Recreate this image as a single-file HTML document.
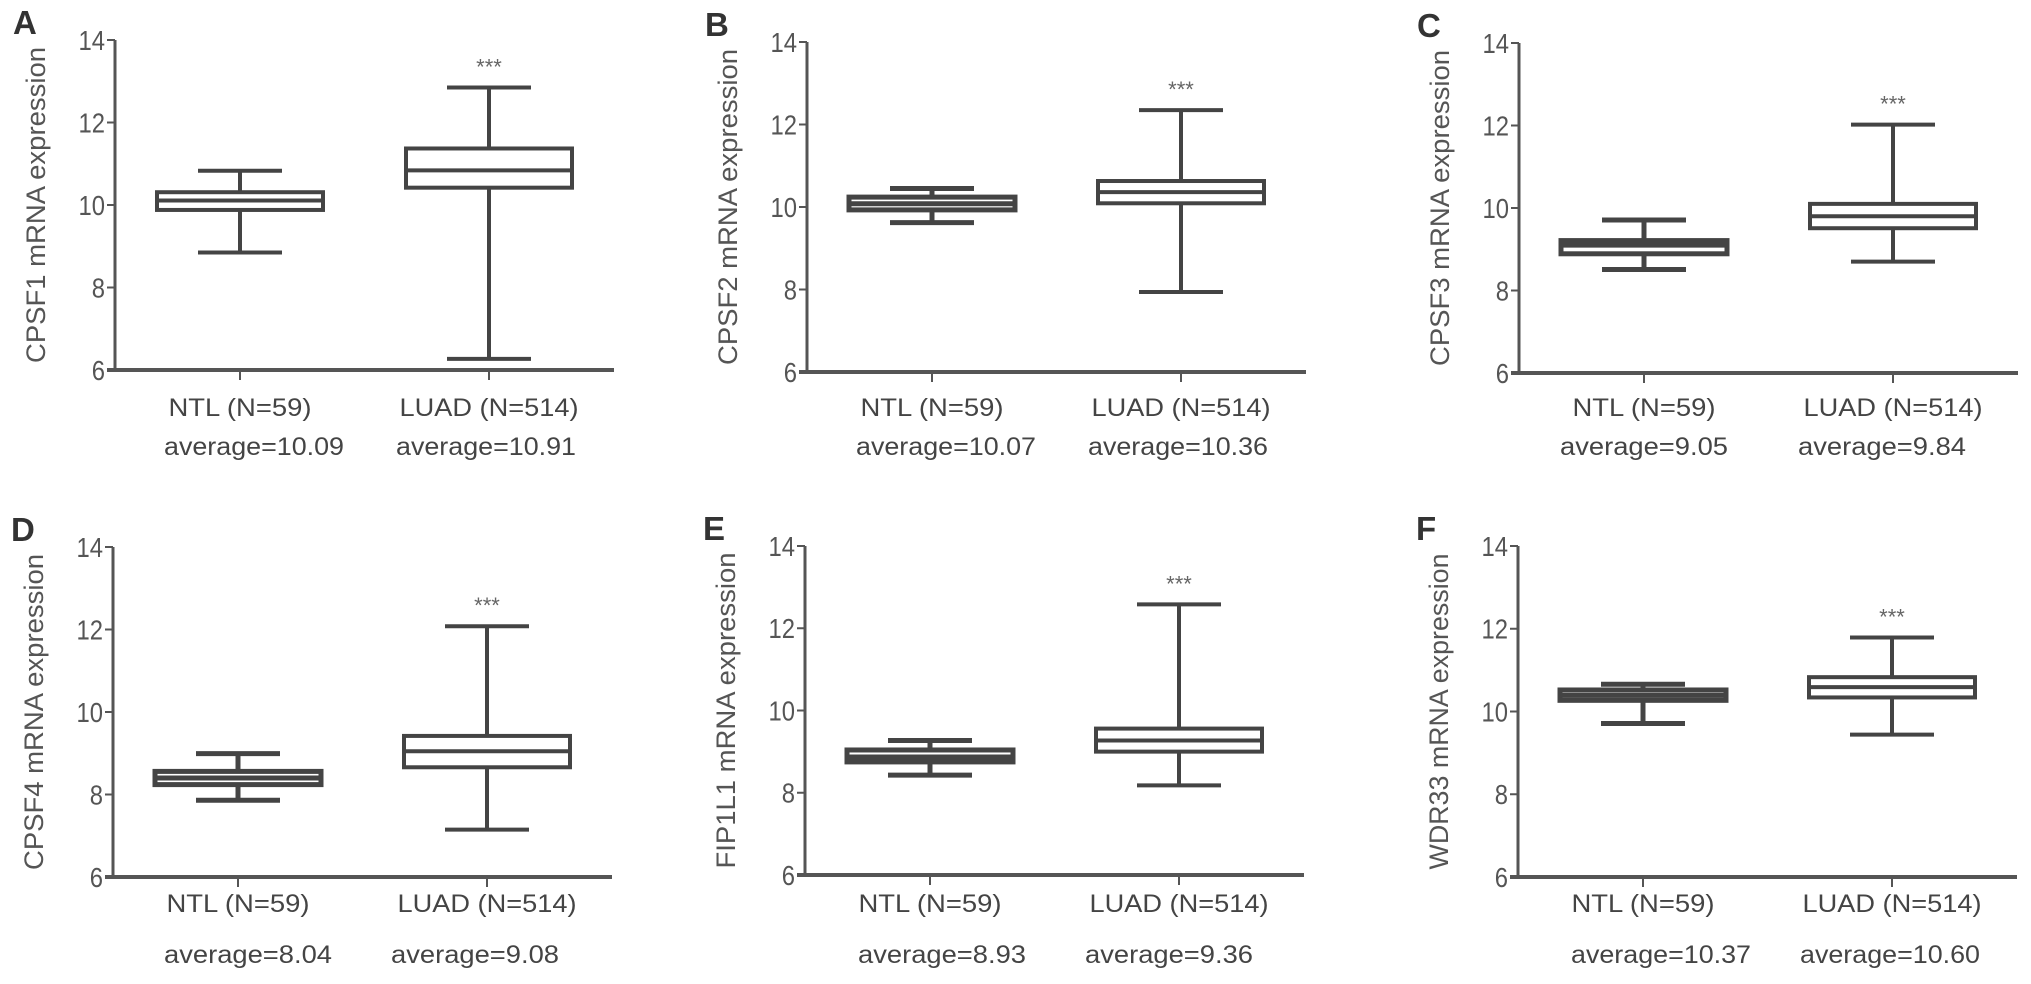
<!DOCTYPE html>
<html><head><meta charset="utf-8">
<style>
html,body{margin:0;padding:0;background:#fff;}
svg{display:block;}
text{font-family:"Liberation Sans",Arial,sans-serif;}
</style></head>
<body>
<svg id="chart" width="2031" height="984" viewBox="0 0 2031 984" xmlns="http://www.w3.org/2000/svg"></svg>
<script>
// ---- data ----
const panelLetters = ["A","B","C","D","E","F"];
const genes = ["CPSF1","CPSF2","CPSF3","CPSF4","FIP1L1","WDR33"];
const categories = ["NTL (N=59)","LUAD (N=514)"];
const yTicks = [6,8,10,12,14];
// [min, q1, median, q3, max] per panel
const ntlStats = [
  [8.85,9.88,10.11,10.31,10.83],
  [9.62,9.93,10.08,10.24,10.45],
  [8.51,8.89,9.10,9.21,9.71],
  [7.86,8.24,8.40,8.56,8.99],
  [8.43,8.75,8.87,9.04,9.27],
  [9.71,10.27,10.39,10.52,10.66]
];
const luadStats = [
  [6.27,10.42,10.84,11.37,12.85],
  [7.94,10.09,10.36,10.63,12.35],
  [8.70,9.51,9.80,10.10,12.02],
  [7.15,8.66,9.05,9.42,12.08],
  [8.18,9.00,9.27,9.56,12.58],
  [9.44,10.34,10.59,10.83,11.79]
];
const ntlAverages = ["10.09","10.07","9.05","8.04","8.93","10.37"];
const luadAverages = ["10.91","10.36","9.84","9.08","9.36","10.60"];

// ---- layout (pixels) ----
const layout = [
  {ax:115, top:40, bot:370, lab:416, avg:455},
  {ax:807, top:42, bot:372, lab:416, avg:455},
  {ax:1519,top:43, bot:373, lab:416, avg:455},
  {ax:113, top:547,bot:877, lab:912, avg:963},
  {ax:805, top:546,bot:875, lab:912, avg:963},
  {ax:1518,top:546,bot:877, lab:912, avg:963}
];
const avgShift = [[14,-3],[14,-3],[0,-11],[10,-12],[12,-10],[18,-2]];

const NS="http://www.w3.org/2000/svg";
const svg=document.getElementById('chart');
function mk(tag,attrs,parent){const e=document.createElementNS(NS,tag);for(const k in attrs)e.setAttribute(k,attrs[k]);(parent||svg).appendChild(e);return e;}
const INK="#444";

layout.forEach((L,i)=>{
  const g=mk('g',{});
  
  
  const y=v=>L.bot-(v-6)*(L.bot-L.top)/8;
  const xc=[L.ax+125,L.ax+374];
  const pl=mk('text',{x:L.ax-102,y:L.top-6,'font-size':33,fill:'#333','font-weight':'600'},g);
  pl.textContent=panelLetters[i];
  
  
  const cy=(L.top+L.bot)/2, tx=L.ax-79;
  const yt=mk('text',{x:tx,y:cy,'font-size':27,fill:'#555','text-anchor':'middle','dominant-baseline':'central',transform:`rotate(-90 ${tx} ${cy})`,textLength:316,lengthAdjust:'spacingAndGlyphs'},g);
  yt.textContent=genes[i]+" mRNA expression";
  
  
  const ya=mk('line',{x1:L.ax,y1:L.top,x2:L.ax,y2:L.bot,stroke:'#555','stroke-width':3},g);
  
  
  const xa=mk('line',{x1:L.ax-8,y1:L.bot,x2:L.ax+499,y2:L.bot,stroke:'#555','stroke-width':4},g);
  
  
  yTicks.forEach(t=>{
    mk('line',{x1:L.ax-8,y1:y(t),x2:L.ax,y2:y(t),stroke:'#555','stroke-width':2},g);
    const tl=mk('text',{x:L.ax-10,y:y(t)+10,'font-size':28,fill:'#555','text-anchor':'end',transform:`translate(${L.ax-10} 0) scale(0.85 1) translate(${-(L.ax-10)} 0)`},g);
    tl.textContent=t;
    
    
  });
  const statsArr=[ntlStats[i],luadStats[i]];
  const avgs=[ntlAverages[i],luadAverages[i]];
  const lw=[143,179];
  statsArr.forEach((s,j)=>{
    const x=xc[j];
    mk('line',{x1:x,y1:L.bot,x2:x,y2:L.bot+10,stroke:'#555','stroke-width':2},g);
    const bx=mk('g',{},g);
    
    
    const boxH=y(s[1])-y(s[3]);
    const sw=boxH<16?5:4;
    const st={stroke:INK,'stroke-width':sw,fill:'none'};
    mk('line',Object.assign({x1:x,y1:y(s[0]),x2:x,y2:y(s[1])},st),bx);
    mk('line',Object.assign({x1:x,y1:y(s[3]),x2:x,y2:y(s[4])},st),bx);
    mk('line',Object.assign({x1:x-42,y1:y(s[0]),x2:x+42,y2:y(s[0])},st),bx);
    mk('line',Object.assign({x1:x-42,y1:y(s[4]),x2:x+42,y2:y(s[4])},st),bx);
    mk('rect',Object.assign({x:x-83,y:y(s[3]),width:166,height:Math.max(1,boxH)},st),bx);
    mk('line',Object.assign({x1:x-83,y1:y(s[2]),x2:x+83,y2:y(s[2])},st),bx);
    const cl=mk('text',{x:x,y:L.lab,'font-size':25,fill:INK,'text-anchor':'middle',textLength:lw[j],lengthAdjust:'spacingAndGlyphs'},g);
    cl.textContent=categories[j];
    
    
    const al=mk('text',{x:x+avgShift[i][j],y:L.avg,'font-size':25,fill:INK,'text-anchor':'middle',textLength:(avgs[j].length>4?180:168),lengthAdjust:'spacingAndGlyphs'},g);
    al.textContent="average="+avgs[j];
    
    
    if(j===1){
      const sg=mk('text',{x:x,y:y(s[4])-13,'font-size':22,fill:'#666','text-anchor':'middle'},g);
      sg.textContent="***";
      
      
    }
  });
});
</script>
</body></html>
